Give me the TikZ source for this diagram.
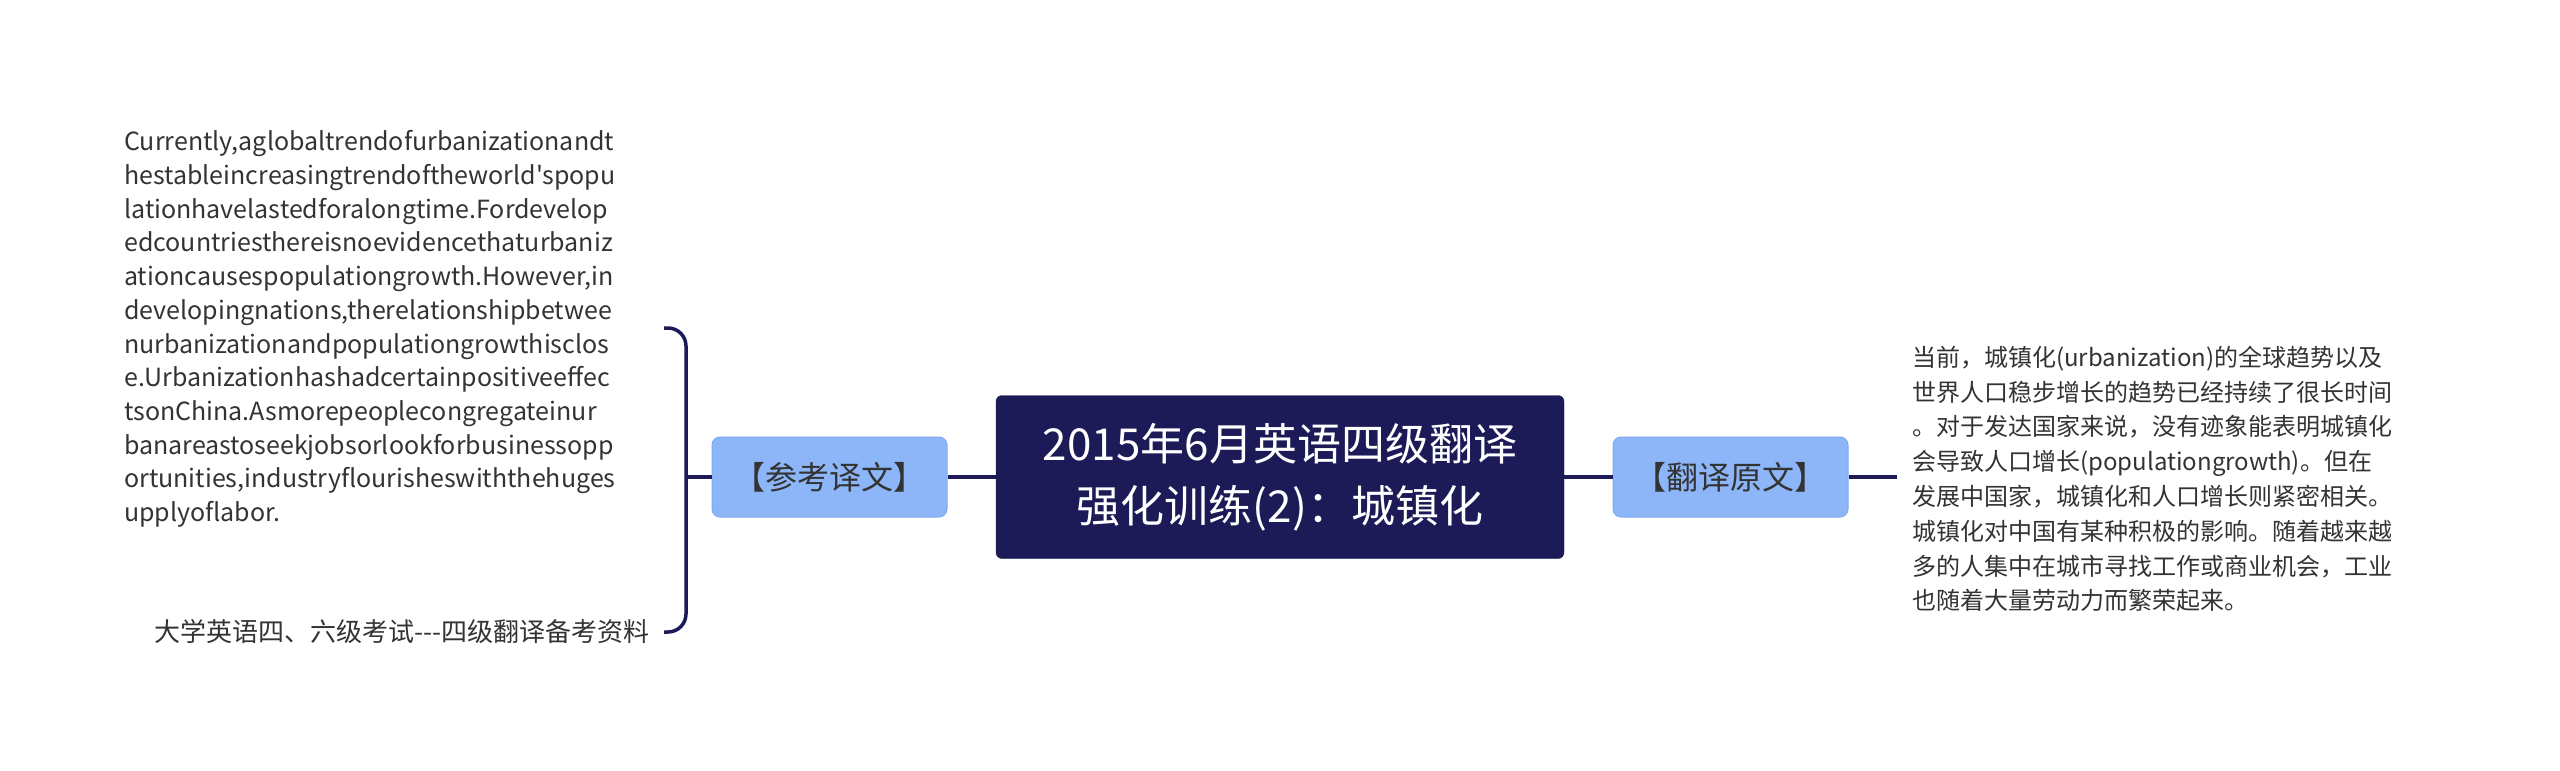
\documentclass[tikz,border=0pt]{standalone}
\usepackage{fontspec}
\usetikzlibrary{calc}
\setmainfont{Noto Sans CJK SC}[Ligatures=TeXOff]
\definecolor{navy}{HTML}{1C1B57}
\definecolor{lblue}{HTML}{8DB6F9}
\definecolor{lbord}{HTML}{7FA9F0}
\definecolor{txt}{HTML}{333333}
\begin{document}
\begin{tikzpicture}[x=1pt,y=-1pt,
  central/.style={fill=navy,draw=navy,rounded corners=6pt,minimum width=568pt,minimum height=163pt,align=center,text=white,font=\fontsize{44}{62}\selectfont,inner sep=0pt},
  branch/.style={fill=lblue,draw=lbord,line width=1pt,rounded corners=8pt,minimum width=235pt,minimum height=80pt,text=txt,font=\fontsize{32}{40}\selectfont,inner sep=0pt},
  leaf/.style={text=txt,inner sep=0pt,align=left},
  conn/.style={draw=navy,line width=3.5pt}]
\useasboundingbox (0,0) rectangle (2560,771);
\node[central] (c) at (1280,477) {2015年6月英语四级翻译\\强化训练(2)：城镇化};
\node[branch] (l) at (829.5,477) {【参考译文】};
\node[branch] (r) at (1730.5,477) {【翻译原文】};
\node[leaf,anchor=west,font=\fontsize{25}{33.7}\selectfont] (lt) at (124,329) {Currently,aglobaltrendofurbanizationandt\\hestableincreasingtrendoftheworld'spopu\\lationhavelastedforalongtime.Fordevelop\\edcountriesthereisnoevidencethaturbaniz\\ationcausespopulationgrowth.However,in\\developingnations,therelationshipbetwee\\nurbanizationandpopulationgrowthisclos\\e.Urbanizationhashadcertainpositiveeffec\\tsonChina.Asmorepeoplecongregateinur\\banareastoseekjobsorlookforbusinessopp\\ortunities,industryflourisheswiththehuges\\upplyoflabor.};
\node[leaf,anchor=east,font=\fontsize{26}{33}\selectfont] (lb) at (650,632) {大学英语四、六级考试---四级翻译备考资料};
\node[leaf,anchor=west,font=\fontsize{24}{34.8}\selectfont] (rt) at (1912,479) {当前，城镇化(urbanization)的全球趋势以及\\世界人口稳步增长的趋势已经持续了很长时间\\。对于发达国家来说，没有迹象能表明城镇化\\会导致人口增长(populationgrowth)。但在\\发展中国家，城镇化和人口增长则紧密相关。\\城镇化对中国有某种积极的影响。随着越来越\\多的人集中在城市寻找工作或商业机会，工业\\也随着大量劳动力而繁荣起来。};
\coordinate (bx) at (686,477);
\coordinate (bt) at (664,328);
\coordinate (bb) at (664,632);
\coordinate (rx) at (1897,477);
\draw[conn] (c.west) -- (l.east);
\draw[conn] (c.east) -- (r.west);
\draw[conn] (r.east) -- (rx);
\draw[conn] (l.west) -- (bx);
\draw[conn,rounded corners=18pt] (bt) -- (686,328) -- (686,632) -- (bb);
\end{tikzpicture}
\end{document}
